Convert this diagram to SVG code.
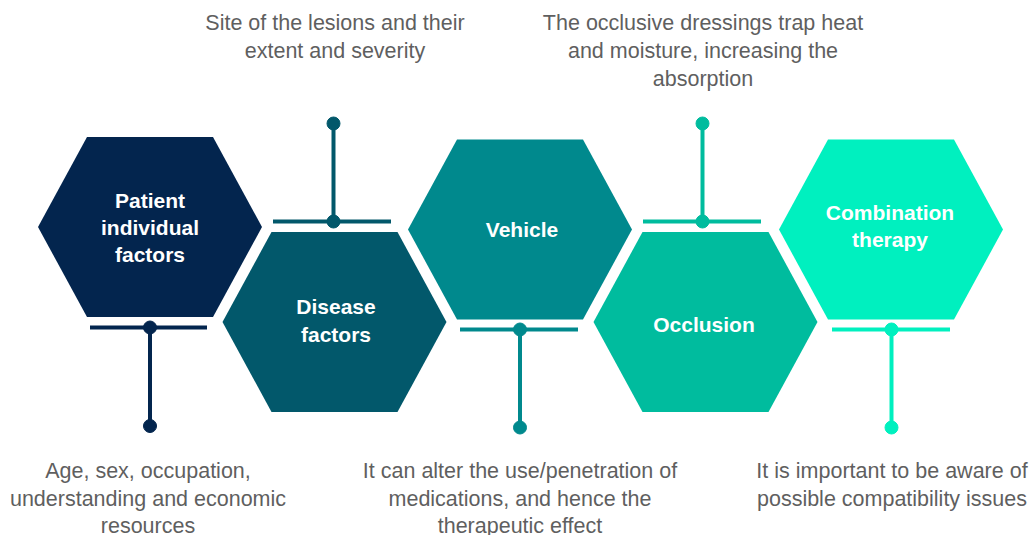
<svg xmlns="http://www.w3.org/2000/svg" width="1030" height="535" viewBox="0 0 1030 535">
<style>
.lbl{font-family:"Liberation Sans",Arial,sans-serif;font-size:21.5px;fill:#5f5f5f;text-anchor:middle}
.nt{font-family:"Liberation Sans",Arial,sans-serif;font-size:21px;font-weight:bold;fill:#ffffff;text-anchor:middle}
.ln{stroke-width:4;fill:none}
</style>
<defs>
<polygon id="hex" points="-63,-90 63,-90 112,0 63,90 -63,90 -112,0"/>
</defs>
<rect width="1030" height="535" fill="#ffffff"/>
<g id="connectors">
<g stroke="#03254E" fill="#03254E">
<line class="ln" x1="90" y1="327.5" x2="207" y2="327.5"/>
<line class="ln" x1="150" y1="327.5" x2="150" y2="426"/>
<circle cx="150" cy="327.5" r="6.5"/>
<circle cx="150" cy="426" r="6.5"/>
</g>
<g stroke="#02586B" fill="#02586B">
<line class="ln" x1="273" y1="221.5" x2="391" y2="221.5"/>
<line class="ln" x1="333.5" y1="123.5" x2="333.5" y2="221.5"/>
<circle cx="333.5" cy="123.5" r="6.5"/>
<circle cx="333.5" cy="221.5" r="6.5"/>
</g>
<g stroke="#00898D" fill="#00898D">
<line class="ln" x1="460" y1="329.5" x2="578" y2="329.5"/>
<line class="ln" x1="520" y1="329.5" x2="520" y2="427.5"/>
<circle cx="520" cy="329.5" r="6.5"/>
<circle cx="520" cy="427.5" r="6.5"/>
</g>
<g stroke="#00BC9E" fill="#00BC9E">
<line class="ln" x1="643" y1="221.5" x2="761" y2="221.5"/>
<line class="ln" x1="702.5" y1="123.5" x2="702.5" y2="221.5"/>
<circle cx="702.5" cy="123.5" r="6.5"/>
<circle cx="702.5" cy="221.5" r="6.5"/>
</g>
<g stroke="#00F0BF" fill="#00F0BF">
<line class="ln" x1="832" y1="329.5" x2="950" y2="329.5"/>
<line class="ln" x1="891.5" y1="329.5" x2="891.5" y2="427.5"/>
<circle cx="891.5" cy="329.5" r="6.5"/>
<circle cx="891.5" cy="427.5" r="6.5"/>
</g>
</g>
<g id="node-patient">
<use href="#hex" transform="translate(150,227)" fill="#03254E"/>
<text class="nt" x="150" y="208">Patient</text>
<text class="nt" x="150" y="235">individual</text>
<text class="nt" x="150" y="262">factors</text>
</g>
<g id="node-disease">
<use href="#hex" transform="translate(334.5,322)" fill="#02586B"/>
<text class="nt" x="336" y="314">Disease</text>
<text class="nt" x="336" y="342">factors</text>
</g>
<g id="node-vehicle">
<use href="#hex" transform="translate(520,229.5)" fill="#00898D"/>
<text class="nt" x="522" y="237">Vehicle</text>
</g>
<g id="node-occlusion">
<use href="#hex" transform="translate(705.5,322)" fill="#00BC9E"/>
<text class="nt" x="704" y="332">Occlusion</text>
</g>
<g id="node-combination">
<use href="#hex" transform="translate(891,229.5)" fill="#00F0BF"/>
<text class="nt" x="890" y="220">Combination</text>
<text class="nt" x="890" y="247">therapy</text>
</g>
<g id="labels">
<text class="lbl" x="335" y="30">Site of the lesions and their</text>
<text class="lbl" x="335" y="58">extent and severity</text>
<text class="lbl" x="703" y="30">The occlusive dressings trap heat</text>
<text class="lbl" x="703" y="58">and moisture, increasing the</text>
<text class="lbl" x="703" y="86">absorption</text>
<text class="lbl" x="148" y="478">Age, sex, occupation,</text>
<text class="lbl" x="148" y="505.5">understanding and economic</text>
<text class="lbl" x="148" y="533">resources</text>
<text class="lbl" x="520" y="478">It can alter the use/penetration of</text>
<text class="lbl" x="520" y="505.5">medications, and hence the</text>
<text class="lbl" x="520" y="533">therapeutic effect</text>
<text class="lbl" x="892" y="478">It is important to be aware of</text>
<text class="lbl" x="892" y="505.5">possible compatibility issues</text>
</g>
</svg>
